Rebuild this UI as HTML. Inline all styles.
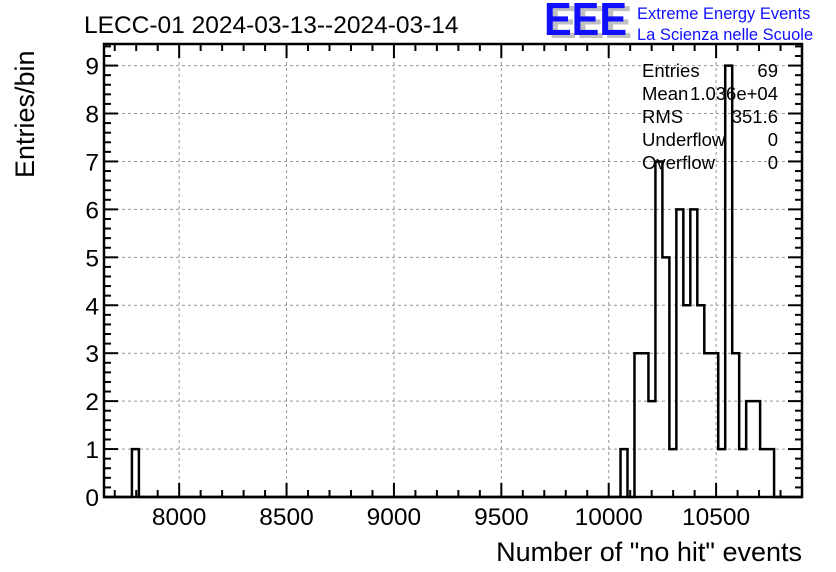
<!DOCTYPE html>
<html><head><meta charset="utf-8"><style>
html,body{margin:0;padding:0;background:#fff}
svg{display:block;font-family:"Liberation Sans",Arial,sans-serif}
</style></head><body>
<svg id="chart" width="836" height="572" viewBox="0 0 836 572">
<rect x="0" y="0" width="836" height="572" fill="#fff"/>
<text x="84" y="33" font-size="24.5">LECC-01 2024-03-13--2024-03-14</text>
<g>
<text x="549" y="38" font-size="46" font-weight="bold" fill="#c0c0c0" textLength="83" lengthAdjust="spacingAndGlyphs">EEE</text>
<text x="544" y="35" font-size="46" font-weight="bold" fill="#1010ff" textLength="83" lengthAdjust="spacingAndGlyphs">EEE</text>
<text x="637" y="19" font-size="16.5" fill="#1010ff">Extreme Energy Events</text>
<text x="637" y="40" font-size="16.5" fill="#1010ff">La Scienza nelle Scuole</text>
</g>
<g id="grid"></g>
<g id="hist"></g>
<g id="axes"></g>
<text transform="translate(34,178) rotate(-90)" font-size="27">Entries/bin</text>
<text x="802" y="561" font-size="27" text-anchor="end">Number of "no hit" events</text>
<g id="stats" font-size="18.5"></g>
</svg>
<script>
const xMin = 7650, xMax = 10900, nBins = 100;
const yMax = 9.45;
const binIndices = [4, 74, 76, 77, 78, 79, 80, 81, 82, 83, 84, 85, 86, 87, 88, 89, 90, 91, 92, 93, 94, 95];
const binCounts  = [1, 1, 3, 3, 2, 7, 5, 1, 6, 4, 6, 4, 3, 3, 1, 9, 3, 1, 2, 2, 1, 1];
const xTicks = [8000, 8500, 9000, 9500, 10000, 10500];
const yTicks = [0,1,2,3,4,5,6,7,8,9];
const statLabels = ["Entries","Mean","RMS","Underflow","Overflow"];
const statValues = ["69","1.036e+04","351.6","0","0"];

const L=104,R=802,T=44,B=497;
const NS="http://www.w3.org/2000/svg";
const sx=v=>L+(v-xMin)/(xMax-xMin)*(R-L);
const sy=v=>B-v/yMax*(B-T);
function mk(tag,attrs,parent){const e=document.createElementNS(NS,tag);for(const k in attrs)e.setAttribute(k,attrs[k]);parent.appendChild(e);return e;}
const grid=document.getElementById('grid'),axes=document.getElementById('axes'),hist=document.getElementById('hist'),stats=document.getElementById('stats');

xTicks.forEach(t=>{const l=mk('line',{x1:sx(t),x2:sx(t),y1:T,y2:B,stroke:'#999','stroke-dasharray':'3,3','stroke-width':1},grid);

});
yTicks.forEach(t=>{if(t===0)return;const l=mk('line',{x1:L,x2:R,y1:sy(t),y2:sy(t),stroke:'#999','stroke-dasharray':'3,3','stroke-width':1},grid);

});

const bw=(xMax-xMin)/nBins;
const counts=new Array(nBins).fill(0);
binIndices.forEach((b,i)=>counts[b]=binCounts[i]);
let d='M'+L+','+B;let prev=0;
for(let i=0;i<nBins;i++){const x0=sx(xMin+i*bw),x1=sx(xMin+(i+1)*bw);
 if(counts[i]!==prev){d+=' L'+x0+','+sy(counts[i]);}
 d+=' L'+x1+','+sy(counts[i]);prev=counts[i];}
const p=mk('path',{d:d,fill:'none',stroke:'#000','stroke-width':2.5},hist);



const fr=mk('rect',{x:L,y:T,width:R-L,height:B-T,fill:'none',stroke:'#000','stroke-width':2.5},axes);



for(let v=7700;v<=10900;v+=100){const major=v%500===0;const len=major?14:7;const x=sx(v);
 mk('line',{x1:x,x2:x,y1:B,y2:B-len,stroke:'#000','stroke-width':2},axes);
 mk('line',{x1:x,x2:x,y1:T,y2:T+len,stroke:'#000','stroke-width':2},axes);}
xTicks.forEach(t=>{const tx=mk('text',{x:sx(t),y:B+28,'font-size':24.5,'text-anchor':'middle'},axes);tx.textContent=t;

});
for(let i=0;i<=47;i++){const v=i/5;if(v>yMax)break;const major=i%5===0;const len=major?14:7;const y=sy(v);
 mk('line',{x1:L,x2:L+len,y1:y,y2:y,stroke:'#000','stroke-width':2},axes);
 mk('line',{x1:R,x2:R-len,y1:y,y2:y,stroke:'#000','stroke-width':2},axes);}
yTicks.forEach(t=>{const tx=mk('text',{x:L-5,y:sy(t)+9,'font-size':24.5,'text-anchor':'end'},axes);tx.textContent=t;

});

statLabels.forEach((s,i)=>{const y=77+i*23;
 const a=mk('text',{x:642,y:y},stats);a.textContent=s;
 
 
 const b=mk('text',{x:778,y:y,'text-anchor':'end'},stats);b.textContent=statValues[i];
 
 });
</script>
</body></html>
